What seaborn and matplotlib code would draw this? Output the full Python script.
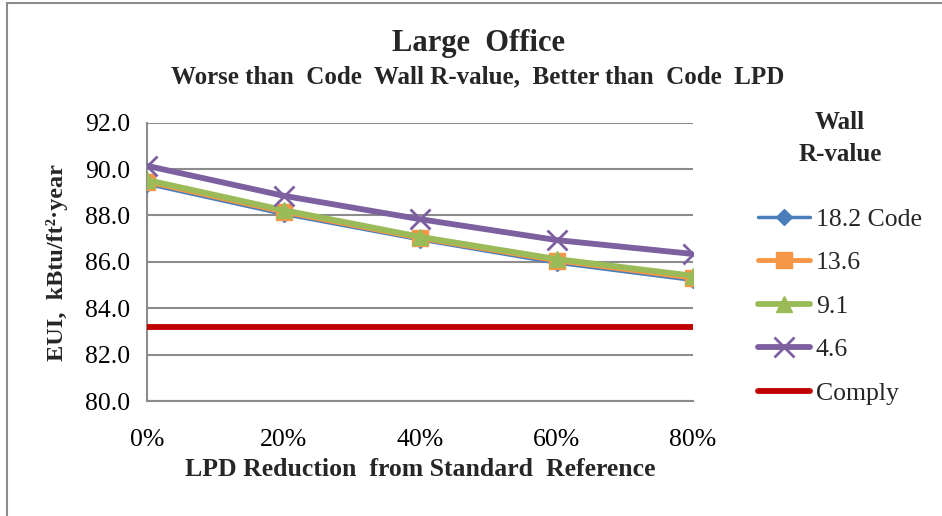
import numpy as np
import pandas as pd
import matplotlib
matplotlib.use("Agg")
import matplotlib.pyplot as plt
import matplotlib.patches as mpatches
import seaborn as sns

# ── Data ──────────────────────────────────────────────────
lpd_reduction = [0, 20, 40, 60, 80]
x_labels      = ["0%", "20%", "40%", "60%", "80%"]
r_18_2 = [89.35, 88.05, 86.95, 85.95, 85.20]
r_13_6 = [89.45, 88.15, 87.02, 86.05, 85.30]
r_9_1  = [89.53, 88.23, 87.08, 86.12, 85.40]
r_4_6  = [90.14, 88.85, 87.84, 86.94, 86.34]
comply = [83.2, 83.2, 83.2, 83.2, 83.2]

series_names = ["18.2 Code", "13.6", "9.1", "4.6", "Comply"]

# ── Style ────────────────────────────────────────────────
BLUE   = "#4A7EBB"
ORANGE = "#F79646"
GREEN  = "#9BBB59"
PURPLE = "#7D60A0"
RED    = "#C00000"
GRID   = "#8C8C8C"

sns.set_style("white")
plt.rcParams["font.family"] = ["Liberation Serif", "DejaVu Serif"]

fig = plt.figure(figsize=(9.42, 5.16), dpi=100)
ax = fig.add_axes([147/942, 1-401/516, (693-147)/942, (401-122.7)/516])

# (values, colour, marker, line width, marker size, marker edge width)
styles = [
    (r_18_2, BLUE,   "D", 2.5, 8,  1.0),
    (r_13_6, ORANGE, "s", 3.5, 11, 1.0),
    (r_9_1,  GREEN,  "^", 4.2, 12, 1.0),
    (r_4_6,  PURPLE, "x", 4.2, 14, 2.0),
    (comply, RED,    None, 4.2, 0, 1.0),
]
handles = []
for vals, col, mk, lw, ms, mew in styles:
    sns.lineplot(x=lpd_reduction, y=vals, ax=ax, color=col, lw=lw,
                 marker=mk, markersize=ms, markeredgecolor=col,
                 markeredgewidth=mew, zorder=3)
    handles.append(plt.Line2D([], [], color=col, lw=lw, marker=mk,
                              markersize=ms, markeredgecolor=col,
                              markeredgewidth=mew))

ax.set_xlim(0, 80)
ax.set_ylim(80, 92)
ax.set_xticks(lpd_reduction)
ax.set_xticklabels(x_labels)
yt = np.arange(80, 92.1, 2)
ax.set_yticks(yt)
ax.set_yticklabels([f"{v:.1f}" for v in yt])
ax.yaxis.grid(True, color=GRID, lw=1.5)
ax.set_axisbelow(True)
for s in ["top", "right"]:
    ax.spines[s].set_visible(False)
for s in ["left", "bottom"]:
    ax.spines[s].set_color(GRID)
    ax.spines[s].set_linewidth(1.5)
ax.tick_params(axis="both", direction="out", length=6, width=1.5,
               color=GRID, labelsize=18.5, labelcolor="black")
ax.tick_params(axis="x", pad=14)
ax.tick_params(axis="y", pad=6)
ax.set_xlabel("")
ax.set_ylabel("")

# ── Texts ────────────────────────────────────────────────
fig.text(478/942, 1-43/516, "Large  Office", ha="center", va="center",
         fontsize=22, fontweight="bold")
fig.text(478/942, 1-77/516,
         "Worse than  Code  Wall R-value,  Better than  Code  LPD",
         ha="center", va="center", fontsize=18, fontweight="bold")
fig.text(420/942, 1-469/516, "LPD Reduction  from Standard  Reference",
         ha="center", va="center", fontsize=18.5, fontweight="bold")
fig.text(57/942, 1-263/516, "EUI,  kBtu/ft²·year",
         ha="center", va="center", rotation=90, fontsize=17.5,
         fontweight="bold")

leg = fig.legend(handles, series_names, loc="upper left",
                 bbox_to_anchor=(735/942, 1-88/516), frameon=False,
                 fontsize=18.5, handlelength=2.0, handletextpad=0.25,
                 labelspacing=0.8, title="Wall\nR-value",
                 title_fontproperties={"weight": "bold", "size": 18})
leg.get_title().set_multialignment("center")
leg.get_title().set_linespacing(1.5)
leg._legend_box.sep = 30

# outer chart border
fig.add_artist(mpatches.Rectangle((7/942, -0.1), 1.2, 1.1 - 3/516,
                                  transform=fig.transFigure, fill=False,
                                  edgecolor="#8C8C8C", lw=1.5))

fig.savefig("out.png", dpi=100)
